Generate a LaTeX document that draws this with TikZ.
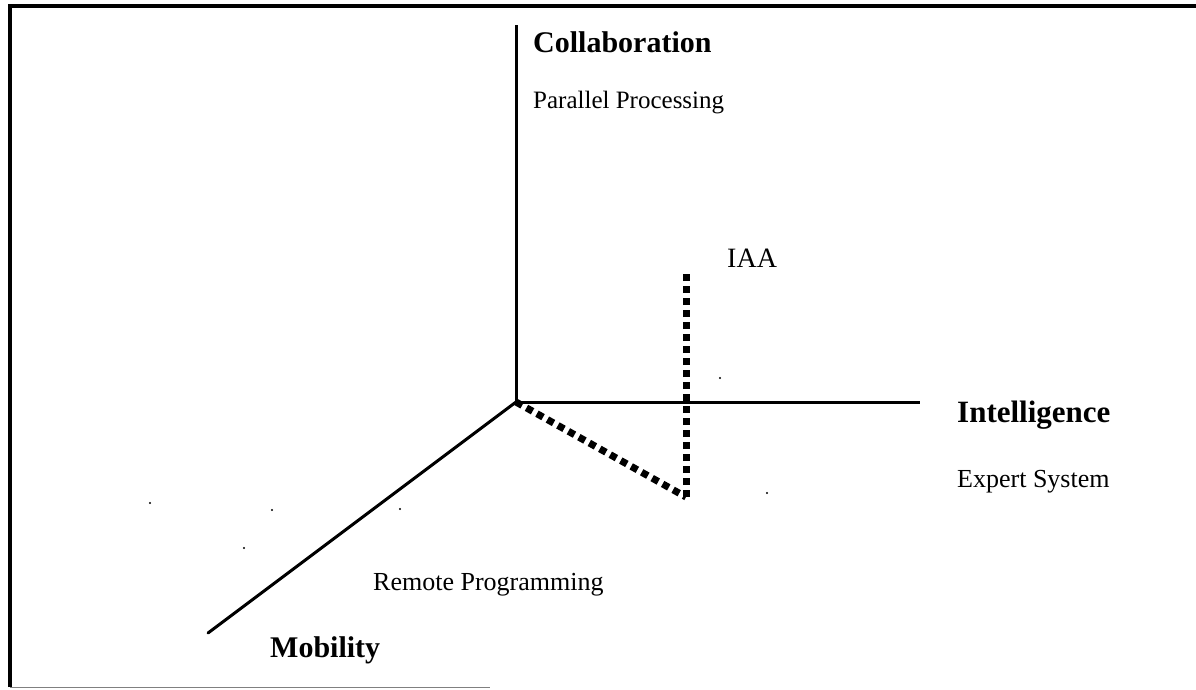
\documentclass[tikz,border=0pt]{standalone}
\usepackage{fontspec}
\setmainfont{Liberation Serif}
\begin{document}
\begin{tikzpicture}[x=1pt,y=-1pt,
  axis/.style={line width=3pt,line cap=butt},
  dotline/.style={line width=7pt,dash pattern=on 7pt off 5pt},
  boldlbl/.style={anchor=base west,inner sep=0pt,font=\fontsize{30}{34}\selectfont\bfseries},
  reglbl/.style={anchor=base west,inner sep=0pt,font=\fontsize{26}{30}\selectfont},
  speck/.style={fill=black,draw=none}]
\useasboundingbox (0,0) rectangle (1196,689);
% frame
\draw[line width=4pt] (10,687) -- (10,6) -- (1196,6);
\draw[line width=1pt,gray] (10,687) -- (490,687);
% axes
\coordinate (O) at (516,402);
\coordinate (Ctop) at (516,25);
\coordinate (Iend) at (920,402);
\coordinate (Mend) at (208,633);
\coordinate (P) at (686,497);
\coordinate (Ptop) at (686,273);
\draw[axis] (O) -- (Ctop);
\draw[axis] (O) -- (Iend);
\draw[axis,line cap=round] (O) -- (Mend);
\draw[dotline] (O) -- (P);
\draw[dotline] (P) -- (Ptop);
% labels
\node[boldlbl] (coll) at (533,52) {Collaboration};
\node[reglbl,font=\fontsize{25}{29}\selectfont] (par) at (533,108) {Parallel Processing};
\node[anchor=base west,inner sep=0pt,font=\fontsize{28}{32}\selectfont] (iaa) at (727,267) {IAA};
\node[boldlbl,font=\fontsize{31}{35}\selectfont\bfseries] (int) at (957,422) {Intelligence};
\node[reglbl] (exp) at (957,487) {Expert System};
\node[reglbl] (rem) at (373,590) {Remote Programming};
\node[boldlbl] (mob) at (270,657) {Mobility};
% specks
\foreach \p in {(150,503),(272,510),(244,548),(400,509),(720,378),(767,493)}
  \fill[speck] \p circle (1.2pt);
\end{tikzpicture}
\end{document}
